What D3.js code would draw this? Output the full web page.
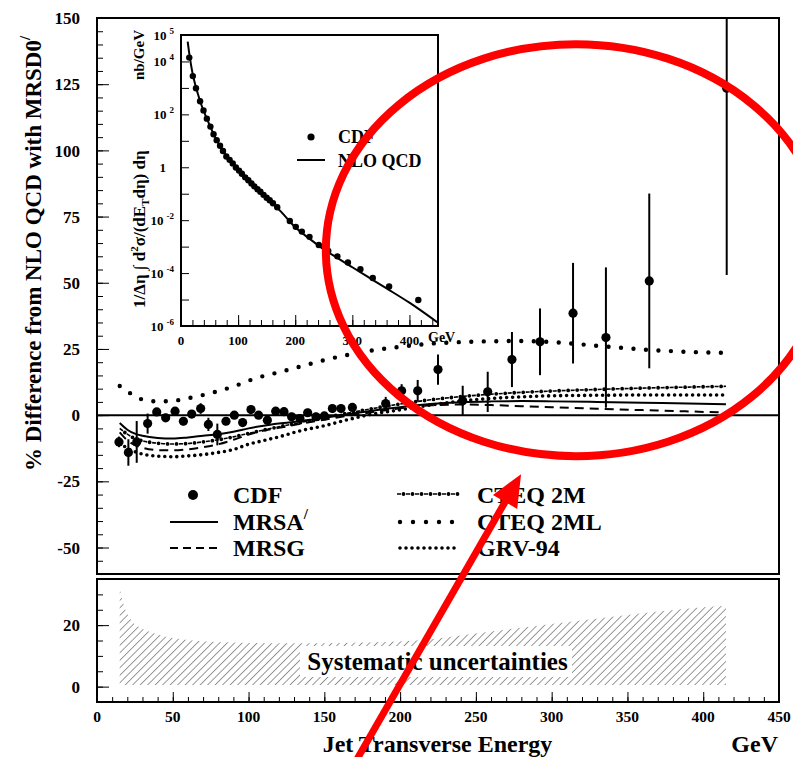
<!DOCTYPE html>
<html><head><meta charset="utf-8">
<script src="https://cdn.jsdelivr.net/npm/d3@7"></script>
<style>
body{margin:0;background:#fff}
text{font-family:"Liberation Serif","Times New Roman",serif;font-weight:bold;fill:#000}
</style>
</head><body>
<svg id="c" width="793" height="757"></svg>
<script>
// ---------------- DATA ----------------
const cdfEt   = [14.5,20.7,26.2,33.4,39.4,45.3,51.5,57,62.5,68.4,73.5,79.4,85.1,90.6,96.1,101.6,106.6,112.4,117.9,123.4,128.4,133.9,139,144.5,150,155.3,161,168.5,190.5,201,211.6,225,241.3,257.8,273.8,292.3,314.1,335.8,364.4,415.5];
const cdfDiff = [-10.1,-14.1,-10.1,-3.2,1.2,-1.0,1.5,-2.3,0.4,2.5,-3.5,-7.3,-2.3,0,-2.8,2.1,0,-1.9,1.5,1.3,-0.6,-1.3,0.9,-0.6,-0.3,2.5,2.5,2.9,4.4,9.2,9.2,17.2,5.4,8.8,21,27.7,38.5,29.3,50.7,123.5];
const cdfErr  = [2,5,7.9,3.8,1.5,1.5,1.5,1.5,1.5,2,2.5,4.1,1.5,1.5,1.5,1.5,1.5,1.5,1.5,1.5,1.5,1.5,1.5,1.5,1.5,1.5,1.5,1.5,2.5,2.5,4.1,5.7,5.7,7.6,10.4,12.6,19,26.5,33,70.6];

const curveEt    = [15,20,25,30,40,50,60,70,80,90,100,110,120,135,150,165,180,200,220,240,260,280,300,330,360,390,415];
const mrsaDiff   = [-3.0,-5.5,-7.0,-7.8,-8.6,-8.8,-8.4,-7.8,-7.2,-6.3,-5.0,-4.0,-3.2,-2.2,-1.0,0.3,1.6,3.0,4.2,4.9,5.2,5.3,5.2,5.0,4.7,4.4,4.1];
const mrsgDiff   = [-6.5,-9.5,-11.3,-12.3,-13.2,-13.3,-12.9,-12.1,-11.0,-9.3,-7.3,-5.8,-4.8,-3.2,-1.7,-0.3,1.0,2.6,3.7,4.0,3.8,3.4,3.0,2.4,1.9,1.4,1.0];
const cteq2mDiff = [-5.0,-7.2,-8.8,-9.7,-10.6,-10.9,-10.7,-10.1,-9.3,-8.2,-6.9,-5.6,-4.4,-2.7,-1.0,0.7,2.3,4.2,5.8,7.0,7.9,8.6,9.1,9.7,10.2,10.6,10.9];
const cteq2mlDiff= [11,9,7.2,5.9,5.2,5.4,6.4,7.6,9.1,10.8,13,14.8,16.2,18.5,20.8,22.7,24.3,25.8,27.0,27.6,27.9,28.0,27.6,26.2,24.8,23.9,23.5];
const grvDiff    = [-10.5,-12.5,-13.8,-14.7,-15.5,-15.7,-15.4,-14.9,-14.1,-13.0,-11.0,-9.6,-8.2,-5.8,-4.0,-1.8,0.2,2.0,3.8,5.3,6.3,6.9,7.3,7.5,7.6,7.6,7.6];

const sysEt    = [15,18,22,28,35,45,60,80,100,130,160,190,220,250,300,350,385,415];
const sysUpper = [32,26,22,19.3,17.8,16.3,15.2,14.5,14.2,14.1,14.2,14.5,15.4,17.3,20.4,23.3,25.2,26.3];
const sysLower = [0.5,0.5,0.5,0.5,0.5,0.5,0.5,0.5,0.5,0.5,0.5,0.5,0.5,0.5,0.5,0.5,0.5,0.5];

const insetCdf = [1.4e4,2.8e3,970,315,141,69,34.5,17.8,10.6,6.5,4.1,2.56,1.91,1.40,0.98,0.75,0.57,0.416,0.325,0.246,0.19,0.147,0.119,0.0906,0.0705,0.0569,0.0438,0.031,0.0093,0.0056,0.0037,0.00234,0.00115,6.8e-4,4.3e-4,2.5e-4,1.4e-4,6.5e-5,3.1e-5,9.6e-6];
const nloEt = [11.7,15,20,25,30,35,40,50,60,70,80,100,125,150,175,200,225,250,275,300,330,360,400,450];
const nloXs = [5.6e4,1.66e4,3.8e3,1.32e3,550,251,129,40,13.2,5.5,2.63,0.79,0.224,0.071,0.021,5.4e-3,2.0e-3,7.9e-4,3.6e-4,1.66e-4,6.6e-5,2.63e-5,7.6e-6,1.32e-6];

const mainYMajor = [-50,-25,0,25,50,75,100,125,150];
const xLabels = [0,50,100,150,200,250,300,350,400,450];
const subYMajor = [0,20];
const insetYLabels = [[1e5,"5"],[1e4,"4"],[1e2,"2"],[1,""],[1e-2,"-2"],[1e-4,"-4"],[1e-6,"-6"]];
const insetXLabels = [0,100,200,300,400];

const legendLeft  = ["CDF","MRSA","MRSG"];
const legendRight = ["CTEQ 2M","CTEQ 2ML","GRV-94"];

// annotation (data coordinates of main panel)
const ringCenter = [316, 62.3], ringRadii = [165, 77.8];
const arrowTail = [171.5, -130], arrowTip = [279.8, -22.3];

// ---------------- SCALES ----------------
const svg = d3.select("#c");
const x  = d3.scaleLinear().domain([0,450]).range([97,779]);
const y  = d3.scaleLinear().domain([-60,150]).range([574,18]);
const yb = d3.scaleLinear().domain([-5,35]).range([702,579]);
const xi = d3.scaleLinear().domain([0,450]).range([181,438]);
const yi = d3.scaleLog().domain([1e-6,1e5]).range([326,35]);

const defs = svg.append("defs");
defs.append("clipPath").attr("id","mainclip").append("rect")
  .attr("x",x(0)).attr("y",y(150)).attr("width",x(450)-x(0)).attr("height",y(-60)-y(150));
defs.append("clipPath").attr("id","insetclip").append("rect")
  .attr("x",xi(0)).attr("y",yi(1e5)).attr("width",xi(450)-xi(0)).attr("height",yi(1e-6)-yi(1e5));
const pat = defs.append("pattern").attr("id","hatch").attr("patternUnits","userSpaceOnUse")
  .attr("width",5.3).attr("height",5.3).attr("patternTransform","rotate(45)");
pat.append("line").attr("x1",0).attr("y1",0).attr("x2",0).attr("y2",5.3)
  .attr("stroke","#555").attr("stroke-width",1.2);

function strip(g){ g.select(".domain").remove(); g.selectAll(".tick line").attr("stroke","#000").attr("stroke-width",1); }

// line style helpers
const styles = {
  mrsa:   [{w:2}],
  mrsg:   [{w:2, da:"9 6"}],
  cteq2m: [{w:1.6, da:"4 5"}, {w:3.8, da:"0 9", off:-6.5, round:true}],
  cteq2ml:[{w:4.4, da:"0 12.5", round:true}],
  grv:    [{w:3.6, da:"0 6", round:true}]
};
function stroke(sel, st){
  sel.attr("fill","none").attr("stroke","#000").attr("stroke-width",st.w);
  if(st.da) sel.attr("stroke-dasharray",st.da);
  if(st.off!==undefined) sel.attr("stroke-dashoffset",st.off);
  if(st.round) sel.attr("stroke-linecap","round");
  return sel;
}

// ---------------- MAIN PANEL ----------------
svg.append("g").attr("transform",`translate(${x(0)},0)`)
  .call(d3.axisRight(y).tickValues(d3.range(-55,150,5)).tickSize(6).tickFormat("")).call(strip);
svg.append("g").attr("transform",`translate(${x(0)},0)`)
  .call(d3.axisRight(y).tickValues(mainYMajor).tickSize(12).tickFormat("")).call(strip);
svg.append("g").selectAll("text").data(mainYMajor).join("text")
  .attr("x",80).attr("y",d=>y(d)).attr("dy","0.36em").attr("text-anchor","end")
  .attr("font-size",17).text(d=>d);

svg.append("line").attr("x1",x(0)).attr("x2",x(450)).attr("y1",y(0)).attr("y2",y(0))
  .attr("stroke","#000").attr("stroke-width",2);

const mg = svg.append("g").attr("clip-path","url(#mainclip)");
const lineMain = arr => d3.line().x((d,i)=>x(curveEt[i])).y(d=>y(d)).curve(d3.curveMonotoneX)(arr);
[[grvDiff,"grv"],[cteq2mlDiff,"cteq2ml"],[mrsgDiff,"mrsg"],[mrsaDiff,"mrsa"],[cteq2mDiff,"cteq2m"]].forEach(([arr,k])=>{
  styles[k].forEach(st=>stroke(mg.append("path").attr("d",lineMain(arr)),st));
});

mg.append("g").selectAll("line").data(cdfEt).join("line")
  .attr("x1",d=>x(d)).attr("x2",d=>x(d))
  .attr("y1",(d,i)=>y(cdfDiff[i]-cdfErr[i])).attr("y2",(d,i)=>y(cdfDiff[i]+cdfErr[i]))
  .attr("stroke","#000").attr("stroke-width",2);
mg.append("g").selectAll("circle").data(cdfEt).join("circle")
  .attr("cx",d=>x(d)).attr("cy",(d,i)=>y(cdfDiff[i])).attr("r",4.6).attr("fill","#000");

svg.append("rect").attr("x",x(0)).attr("y",y(150)).attr("width",x(450)-x(0)).attr("height",y(-60)-y(150))
  .attr("fill","none").attr("stroke","#000").attr("stroke-width",2);

// legend
const lg = svg.append("g");
lg.append("circle").attr("cx",193).attr("cy",495).attr("r",5).attr("fill","#000");
styles.mrsa.forEach(st=>stroke(lg.append("line").attr("x1",170).attr("x2",218).attr("y1",522).attr("y2",522),st));
stroke(lg.append("line").attr("x1",170).attr("x2",218).attr("y1",548).attr("y2",548),{w:2,da:"8 5"});
styles.cteq2m.forEach(st=>stroke(lg.append("line").attr("x1",397).attr("x2",460).attr("y1",494).attr("y2",494),st));
styles.cteq2ml.forEach(st=>stroke(lg.append("line").attr("x1",400).attr("x2",453).attr("y1",522).attr("y2",522),Object.assign({},st,{da:"0 13"})));
styles.grv.forEach(st=>stroke(lg.append("line").attr("x1",400).attr("x2",460).attr("y1",548).attr("y2",548),st));
legendLeft.forEach((t,i)=>{
  const tx = lg.append("text").attr("x",233).attr("y",503+i*26.5).attr("font-size",24);
  tx.append("tspan").text(t);
  if(t==="MRSA") tx.append("tspan").attr("dy",-11).attr("font-size",15).text("/");
});
legendRight.forEach((t,i)=>{
  lg.append("text").attr("x",477).attr("y",503+i*26.5).attr("font-size",24).text(t);
});

const yt = svg.append("text").attr("transform","translate(41,471) rotate(-90)").attr("font-size",23);
yt.append("tspan").text("% Difference from NLO QCD with MRSD0");
yt.append("tspan").attr("dy",-11).attr("font-size",15).text("/");

// ---------------- INSET ----------------
svg.append("rect").attr("x",xi(0)).attr("y",yi(1e5)).attr("width",xi(450)-xi(0)).attr("height",yi(1e-6)-yi(1e5))
  .attr("fill","#fff");
svg.append("g").attr("transform",`translate(${xi(0)},0)`)
  .call(d3.axisRight(yi).tickValues(d3.range(-5,5).map(e=>Math.pow(10,e))).tickSize(8).tickFormat("")).call(strip);
svg.append("g").attr("transform",`translate(0,${yi(1e-6)})`)
  .call(d3.axisTop(xi).tickValues(d3.range(20,450,20)).tickSize(6).tickFormat("")).call(strip);
svg.append("g").attr("transform",`translate(0,${yi(1e-6)})`)
  .call(d3.axisTop(xi).tickValues([100,200,300,400]).tickSize(11).tickFormat("")).call(strip);
const ig = svg.append("g").attr("clip-path","url(#insetclip)");
ig.append("path").attr("d",d3.line().x((d,i)=>xi(nloEt[i])).y(d=>yi(d)).curve(d3.curveMonotoneX)(nloXs))
  .attr("fill","none").attr("stroke","#000").attr("stroke-width",2);
ig.append("g").selectAll("circle").data(insetCdf).join("circle")
  .attr("cx",(d,i)=>xi(cdfEt[i])).attr("cy",d=>yi(d)).attr("r",3.2).attr("fill","#000");
svg.append("rect").attr("x",xi(0)).attr("y",yi(1e5)).attr("width",xi(450)-xi(0)).attr("height",yi(1e-6)-yi(1e5))
  .attr("fill","none").attr("stroke","#000").attr("stroke-width",2);

insetYLabels.forEach(([v,e])=>{
  const t = svg.append("text").attr("text-anchor","end").attr("font-size",13)
    .attr("x", e==="" ? 166 : 174).attr("y",yi(v)).attr("dy","0.36em");
  if(e===""){ t.text("1"); }
  else { t.append("tspan").text("10"); t.append("tspan").attr("dx",3).attr("dy",-6).attr("font-size",9).text(e); }
});
svg.append("g").selectAll("text").data(insetXLabels).join("text")
  .attr("x",d=>xi(d)).attr("y",345).attr("text-anchor","middle").attr("font-size",13).text(d=>d);
svg.append("text").attr("x",428).attr("y",342).attr("font-size",14).text("GeV");

const il = svg.append("text").attr("transform","translate(145,308) rotate(-90)").attr("font-size",17);
il.append("tspan").text("1/Δη ∫ d");
il.append("tspan").attr("font-size",11).attr("dy",-7).text("2");
il.append("tspan").attr("dy",7).text("σ/(dE");
il.append("tspan").attr("font-size",11).attr("dy",4).text("T");
il.append("tspan").attr("dy",-4).text("dη) dη");
svg.append("text").attr("transform","translate(144,80) rotate(-90)").attr("font-size",15).text("nb/GeV");

svg.append("circle").attr("cx",311).attr("cy",137).attr("r",3.6).attr("fill","#000");
svg.append("text").attr("x",338).attr("y",143).attr("font-size",18).text("CDF");
svg.append("line").attr("x1",297).attr("x2",325).attr("y1",160).attr("y2",160).attr("stroke","#000").attr("stroke-width",2);
svg.append("text").attr("x",338).attr("y",167).attr("font-size",18).text("NLO QCD");

// ---------------- SYSTEMATICS PANEL ----------------
svg.append("path")
  .attr("d",d3.area().x((d,i)=>x(sysEt[i])).y0((d,i)=>yb(sysLower[i])).y1(d=>yb(d)).curve(d3.curveMonotoneX)(sysUpper))
  .attr("fill","url(#hatch)");
svg.append("rect").attr("x",300).attr("y",646).attr("width",272).attr("height",31).attr("fill","#fff");
svg.append("text").attr("x",437.5).attr("y",670).attr("text-anchor","middle").attr("font-size",25).text("Systematic uncertainties");

svg.append("g").attr("transform",`translate(${x(0)},0)`)
  .call(d3.axisRight(yb).tickValues(d3.range(0,35,5)).tickSize(6).tickFormat("")).call(strip);
svg.append("g").attr("transform",`translate(${x(0)},0)`)
  .call(d3.axisRight(yb).tickValues(subYMajor).tickSize(12).tickFormat("")).call(strip);
svg.append("g").selectAll("text").data(subYMajor).join("text")
  .attr("x",80).attr("y",d=>yb(d)).attr("dy","0.36em").attr("text-anchor","end").attr("font-size",17).text(d=>d);

svg.append("g").attr("transform",`translate(0,${yb(-5)})`)
  .call(d3.axisTop(x).tickValues(d3.range(10,450,10)).tickSize(5).tickFormat("")).call(strip);
svg.append("g").attr("transform",`translate(0,${yb(-5)})`)
  .call(d3.axisTop(x).tickValues(d3.range(50,450,50)).tickSize(10).tickFormat("")).call(strip);
svg.append("rect").attr("x",x(0)).attr("y",yb(35)).attr("width",x(450)-x(0)).attr("height",yb(-5)-yb(35))
  .attr("fill","none").attr("stroke","#000").attr("stroke-width",2);

svg.append("g").selectAll("text").data(xLabels).join("text")
  .attr("x",d=>x(d)).attr("y",722).attr("text-anchor","middle").attr("font-size",15.5).text(d=>d);
svg.append("text").attr("x",437.5).attr("y",752).attr("text-anchor","middle").attr("font-size",24).text("Jet Transverse Energy");
svg.append("text").attr("x",778).attr("y",752).attr("text-anchor","end").attr("font-size",24).text("GeV");

// ---------------- ANNOTATION ----------------
const ann = svg.append("g");
const cx = x(ringCenter[0]), cy = y(ringCenter[1]);
ann.append("ellipse").attr("cx",cx).attr("cy",cy)
  .attr("rx",x(ringCenter[0]+ringRadii[0])-cx).attr("ry",cy-y(ringCenter[1]+ringRadii[1]))
  .attr("fill","none").attr("stroke","#ff0000").attr("stroke-width",8);
const T=[x(arrowTip[0]),y(arrowTip[1])], S=[x(arrowTail[0]),y(arrowTail[1])];
const L=Math.hypot(T[0]-S[0],T[1]-S[1]), u=[(T[0]-S[0])/L,(T[1]-S[1])/L], p=[-u[1],u[0]];
const B=[T[0]-32*u[0],T[1]-32*u[1]];
ann.append("line").attr("x1",S[0]).attr("y1",S[1]).attr("x2",B[0]+2*u[0]).attr("y2",B[1]+2*u[1])
  .attr("stroke","#ff0000").attr("stroke-width",7);
ann.append("polygon").attr("points",[T,[B[0]+14*p[0],B[1]+14*p[1]],[B[0]-14*p[0],B[1]-14*p[1]]].map(q=>q.join(",")).join(" "))
  .attr("fill","#ff0000");
</script>
</body></html>
